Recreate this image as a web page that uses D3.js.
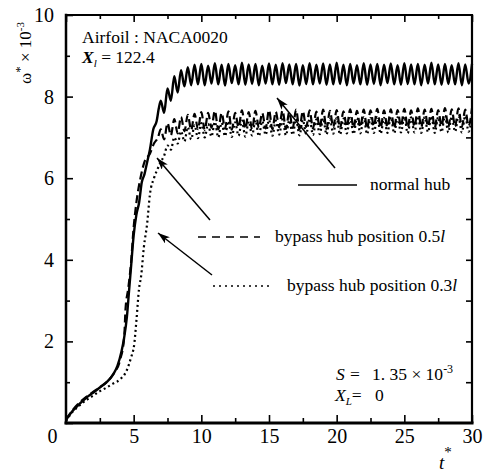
<!DOCTYPE html>
<html>
<head>
<meta charset="utf-8">
<script src="https://cdn.jsdelivr.net/npm/d3@7"></script>
<style>
    body { margin: 0; background: #fff; }
    svg { display: block; }
    svg text { font-family: "Liberation Serif", "DejaVu Serif", serif; }
</style>
</head>
<body>
<div id="chart"></div>
<script>
'use strict';

// rise part of each curve, [t*, omega* x 1e-3]
const normalRise = [
    [0, 0.08], [0.5, 0.3], [1, 0.47], [1.5, 0.62], [2, 0.74], [2.5, 0.87], [3, 1.0],
    [3.5, 1.2], [3.8, 1.4], [4.1, 1.75], [4.3, 2.1], [4.5, 2.6], [4.65, 3.2], [4.8, 3.8],
    [5.0, 4.6], [5.2, 5.1], [5.4, 5.4], [5.6, 5.9], [5.8, 6.1], [6.0, 6.4], [6.2, 6.7],
    [6.45, 7.2], [6.7, 7.4], [6.85, 7.7]
];
const bypass05Rise = [
    [0, 0.08], [0.5, 0.32], [1, 0.5], [1.5, 0.64], [2, 0.76], [2.5, 0.88], [3, 1.0],
    [3.5, 1.2], [4, 1.55], [4.3, 2.1], [4.4, 2.8], [4.6, 3.3], [4.8, 3.9], [5.0, 4.8],
    [5.2, 5.4], [5.5, 6.0], [5.8, 6.4], [6.2, 6.6], [6.5, 6.85], [6.8, 7.0]
];
const bypass03Rise = [
    [0, 0.05], [0.5, 0.28], [1, 0.43], [1.5, 0.56], [2, 0.67], [2.5, 0.78], [3, 0.87],
    [3.5, 0.97], [4, 1.07], [4.5, 1.3], [4.8, 1.6], [5.05, 1.95], [5.2, 2.5], [5.4, 3.3],
    [5.55, 3.6], [5.75, 4.3], [6.0, 4.9], [6.2, 5.6], [6.5, 6.0], [6.8, 6.25]
];

// oscillating part, sampled every half period
const tPlateau = [
    7, 7.25, 7.5, 7.75, 8, 8.25, 8.5, 8.75,
    9, 9.25, 9.5, 9.75, 10, 10.25, 10.5, 10.75,
    11, 11.25, 11.5, 11.75, 12, 12.25, 12.5, 12.75,
    13, 13.25, 13.5, 13.75, 14, 14.25, 14.5, 14.75,
    15, 15.25, 15.5, 15.75, 16, 16.25, 16.5, 16.75,
    17, 17.25, 17.5, 17.75, 18, 18.25, 18.5, 18.75,
    19, 19.25, 19.5, 19.75, 20, 20.25, 20.5, 20.75,
    21, 21.25, 21.5, 21.75, 22, 22.25, 22.5, 22.75,
    23, 23.25, 23.5, 23.75, 24, 24.25, 24.5, 24.75,
    25, 25.25, 25.5, 25.75, 26, 26.25, 26.5, 26.75,
    27, 27.25, 27.5, 27.75, 28, 28.25, 28.5, 28.75,
    29, 29.25, 29.5, 29.75, 30
];
const normalPlateau = [
    7.9, 7.6, 8.2, 7.9, 8.5, 8.1, 8.65, 8.25, 8.72, 8.28,
    8.78, 8.3, 8.8, 8.28, 8.76, 8.32, 8.82, 8.3, 8.78, 8.27,
    8.8, 8.33, 8.77, 8.3, 8.83, 8.29, 8.79, 8.31, 8.8, 8.28,
    8.76, 8.32, 8.81, 8.3, 8.78, 8.29, 8.82, 8.33, 8.79, 8.3,
    8.8, 8.27, 8.77, 8.31, 8.82, 8.3, 8.78, 8.32, 8.81, 8.29,
    8.79, 8.3, 8.83, 8.31, 8.78, 8.28, 8.8, 8.32, 8.77, 8.3,
    8.82, 8.29, 8.79, 8.31, 8.8, 8.28, 8.78, 8.33, 8.81, 8.3,
    8.77, 8.29, 8.82, 8.31, 8.79, 8.3, 8.8, 8.28, 8.78, 8.32,
    8.83, 8.3, 8.79, 8.29, 8.8, 8.31, 8.77, 8.3, 8.82, 8.28,
    8.79, 8.32, 8.8
];
const bypass05Plateau = [
    7.2, 6.95, 7.35, 7.05, 7.45, 7.1, 7.5, 7.15, 7.55, 7.18,
    7.58, 7.2, 7.62, 7.18, 7.6, 7.24, 7.65, 7.2, 7.6, 7.22,
    7.64, 7.19, 7.6, 7.25, 7.66, 7.21, 7.62, 7.2, 7.65, 7.24,
    7.6, 7.22, 7.67, 7.2, 7.63, 7.25, 7.66, 7.21, 7.62, 7.23,
    7.68, 7.2, 7.64, 7.26, 7.66, 7.22, 7.63, 7.24, 7.68, 7.21,
    7.65, 7.25, 7.67, 7.22, 7.64, 7.26, 7.69, 7.23, 7.65, 7.25,
    7.68, 7.22, 7.66, 7.27, 7.7, 7.24, 7.66, 7.25, 7.69, 7.23,
    7.67, 7.27, 7.7, 7.24, 7.66, 7.26, 7.71, 7.25, 7.68, 7.27,
    7.7, 7.24, 7.67, 7.28, 7.72, 7.25, 7.69, 7.27, 7.71, 7.26,
    7.68, 7.28, 7.72
];
const bypass03Plateau = [
    6.4, 6.55, 6.8, 6.7, 7.0, 6.85, 7.15, 6.9, 7.25, 6.95,
    7.3, 6.98, 7.35, 7.0, 7.33, 7.02, 7.38, 7.0, 7.36, 7.03,
    7.4, 7.01, 7.37, 7.04, 7.41, 7.02, 7.39, 7.05, 7.42, 7.03,
    7.4, 7.06, 7.43, 7.04, 7.41, 7.07, 7.44, 7.05, 7.42, 7.06,
    7.45, 7.05, 7.43, 7.08, 7.46, 7.06, 7.44, 7.08, 7.47, 7.07,
    7.45, 7.09, 7.48, 7.07, 7.46, 7.1, 7.48, 7.08, 7.47, 7.1,
    7.49, 7.08, 7.47, 7.11, 7.5, 7.09, 7.48, 7.11, 7.5, 7.1,
    7.49, 7.12, 7.51, 7.1, 7.49, 7.12, 7.52, 7.11, 7.5, 7.13,
    7.52, 7.11, 7.5, 7.13, 7.53, 7.12, 7.51, 7.14, 7.52, 7.12,
    7.53, 7.14, 7.52
];

const xMajorTicks = [0, 5, 10, 15, 20, 25, 30];
const xMinorTicks = [2.5, 7.5, 12.5, 17.5, 22.5, 27.5];
const yMajorTicks = [0, 2, 4, 6, 8, 10];
const yMinorTicks = [1, 3, 5, 7, 9];
const yRightTicks = [1, 2, 3, 4, 5, 6, 7, 8, 9];

(function(doc) {

    const W = 492;
    const H = 472;
    const serif = '"Liberation Serif", "DejaVu Serif", serif';
    const fs = '17.5px';
    const margin = {top: 15, right: 20, bottom: 49, left: 66};
    const width = W - margin.left - margin.right;
    const height = H - margin.top - margin.bottom;

    const svg = d3.select('#chart').append('svg')
        .attr('width', W)
        .attr('height', H)
        .attr('font-family', serif);

    const defs = svg.append('defs');
    defs.append('marker')
        .attr('id', 'arrow')
        .attr('viewBox', '0 0 12 8')
        .attr('refX', 12)
        .attr('refY', 4)
        .attr('markerWidth', 14)
        .attr('markerHeight', 8)
        .attr('markerUnits', 'userSpaceOnUse')
        .attr('orient', 'auto')
        .append('path')
        .attr('d', 'M0,0 L12,4 L0,8 L3,4 Z')
        .attr('fill', '#000');

    const g = svg.append('g')
        .attr('transform', `translate(${margin.left}, ${margin.top})`);

    const x = d3.scaleLinear().domain([0, 30]).range([0, width]);
    const y = d3.scaleLinear().domain([0, 10]).range([height, 0]);

    const series = (rise, plateau) => {
        const pts = rise.map((d) => ({t: d[0], w: d[1]}));
        plateau.forEach((w, i) => pts.push({t: tPlateau[i], w: w}));
        return pts;
    };

    const line = d3.line()
        .x((d) => x(d.t))
        .y((d) => y(d.w))
        .curve(d3.curveMonotoneX);

    g.append('path')
        .datum(series(bypass03Rise, bypass03Plateau))
        .attr('d', line)
        .attr('fill', 'none')
        .attr('stroke', '#000')
        .attr('stroke-width', 2.2)
        .attr('stroke-dasharray', '2,3');

    g.append('path')
        .datum(series(bypass05Rise, bypass05Plateau))
        .attr('d', line)
        .attr('fill', 'none')
        .attr('stroke', '#000')
        .attr('stroke-width', 2.2)
        .attr('stroke-dasharray', '8,4');

    g.append('path')
        .datum(series(normalRise, normalPlateau))
        .attr('d', line)
        .attr('fill', 'none')
        .attr('stroke', '#000')
        .attr('stroke-width', 2.4);

    // axes with inward ticks
    const styleAxis = (sel) => {
        sel.attr('font-family', serif);
        sel.select('.domain').remove();
        sel.selectAll('line').attr('stroke', '#000').attr('stroke-width', 1.6);
        sel.selectAll('text')
            .attr('fill', '#000')
            .attr('font-family', serif)
            .style('font-size', '20px');
    };

    g.append('g')
        .attr('transform', `translate(0, ${height})`)
        .call(d3.axisBottom(x).tickValues(xMajorTicks).tickSize(-8).tickPadding(6))
        .call(styleAxis)
        .call((sel) => sel.selectAll('.tick')
            .filter((d) => d === 0)
            .select('text').attr('x', -14));
    g.append('g')
        .attr('transform', `translate(0, ${height})`)
        .call(d3.axisBottom(x).tickValues(xMinorTicks).tickSize(-5).tickFormat(''))
        .call(styleAxis);

    g.append('g')
        .call(d3.axisLeft(y).tickValues(yMajorTicks).tickSize(-7).tickPadding(12)
            .tickFormat((d) => d === 0 ? '' : d))
        .call(styleAxis);
    g.append('g')
        .call(d3.axisLeft(y).tickValues(yMinorTicks).tickSize(-4).tickFormat(''))
        .call(styleAxis);

    g.append('g')
        .call(d3.axisTop(x).tickValues(xMajorTicks).tickSize(-7).tickFormat(''))
        .call(styleAxis);
    g.append('g')
        .call(d3.axisTop(x).tickValues(xMinorTicks).tickSize(-4).tickFormat(''))
        .call(styleAxis);

    g.append('g')
        .attr('transform', `translate(${width}, 0)`)
        .call(d3.axisRight(y).tickValues(yRightTicks).tickSize(-6).tickFormat(''))
        .call(styleAxis);

    // frame
    const frame = [
        [0, 0, 0, height, 2.5],
        [0, height, width, height, 3],
        [width, 0, width, height, 2.2],
        [0, 0, width, 0, 1.8]
    ];
    frame.forEach((f) => {
        g.append('line')
            .attr('x1', f[0]).attr('y1', f[1])
            .attr('x2', f[2]).attr('y2', f[3])
            .attr('stroke', '#000')
            .attr('stroke-width', f[4])
            .attr('stroke-linecap', 'square');
    });

    // axis titles
    const yTitle = svg.append('text')
        .attr('transform', 'translate(31, 53) rotate(-90)')
        .attr('text-anchor', 'middle')
        .style('font-size', '17px');
    yTitle.append('tspan').text('ω');
    yTitle.append('tspan').attr('dy', -7).style('font-size', '13px').text('*');
    yTitle.append('tspan').attr('dy', 7).text(' × 10');
    yTitle.append('tspan').attr('dy', -7).style('font-size', '11px').text('-3');

    const xTitle = svg.append('text')
        .attr('x', 439)
        .attr('y', 469)
        .style('font-size', '19px');
    xTitle.append('tspan').style('font-style', 'italic').text('t');
    xTitle.append('tspan').attr('dy', -12).style('font-size', '15px').text('*');

    // annotations
    svg.append('text')
        .attr('x', 82).attr('y', 43)
        .style('font-size', fs)
        .text('Airfoil : NACA0020');

    const xl = svg.append('text')
        .attr('x', 82).attr('y', 63)
        .style('font-size', fs);
    xl.append('tspan').style('font-style', 'italic').style('font-weight', 'bold').text('X');
    xl.append('tspan').attr('dy', 4).style('font-style', 'italic').style('font-size', '11px').text('l');
    xl.append('tspan').attr('dy', -4).text(' = 122.4');

    const sText = svg.append('text')
        .attr('y', 380)
        .style('font-size', fs);
    sText.append('tspan').attr('x', 336).style('font-style', 'italic').text('S');
    sText.append('tspan').attr('x', 350).text('=');
    sText.append('tspan').attr('x', 372).text('1. 35 × 10');
    sText.append('tspan').attr('dy', -7).style('font-size', '12px').text('-3');

    const xlText = svg.append('text')
        .attr('y', 401)
        .style('font-size', fs);
    xlText.append('tspan').attr('x', 335).style('font-style', 'italic').text('X');
    xlText.append('tspan').attr('dy', 4).style('font-style', 'italic').style('font-size', '11px').text('L');
    xlText.append('tspan').attr('dy', -4).text('=');
    xlText.append('tspan').attr('x', 375).text('0');

    // legend
    const legend = [
        {x1: 298, x2: 357, y: 185, dash: null, tx: 370, label: 'normal hub', suffix: ''},
        {x1: 198, x2: 260, y: 237, dash: '8,6', tx: 275, label: 'bypass hub position 0.5', suffix: 'l'},
        {x1: 213, x2: 272, y: 286, dash: '2,4', tx: 287, label: 'bypass hub position 0.3', suffix: 'l'}
    ];
    legend.forEach((d) => {
        svg.append('line')
            .attr('x1', d.x1).attr('x2', d.x2)
            .attr('y1', d.y).attr('y2', d.y)
            .attr('stroke', '#000')
            .attr('stroke-width', 1.5)
            .attr('stroke-dasharray', d.dash);
        const t = svg.append('text')
            .attr('x', d.tx).attr('y', d.y + 5)
            .style('font-size', fs);
        t.append('tspan').text(d.label);
        t.append('tspan').style('font-style', 'italic').text(d.suffix);
    });

    // arrows from legend to curves
    const arrows = [
        [335, 168, 277, 98],
        [210, 220, 157, 158],
        [212, 275, 158, 233]
    ];
    arrows.forEach((a) => {
        svg.append('line')
            .attr('x1', a[0]).attr('y1', a[1])
            .attr('x2', a[2]).attr('y2', a[3])
            .attr('stroke', '#000')
            .attr('stroke-width', 1.5)
            .attr('marker-end', 'url(#arrow)');
    });

    svg.selectAll('text').attr('font-family', serif);

}(document));
</script>
</body>
</html>
